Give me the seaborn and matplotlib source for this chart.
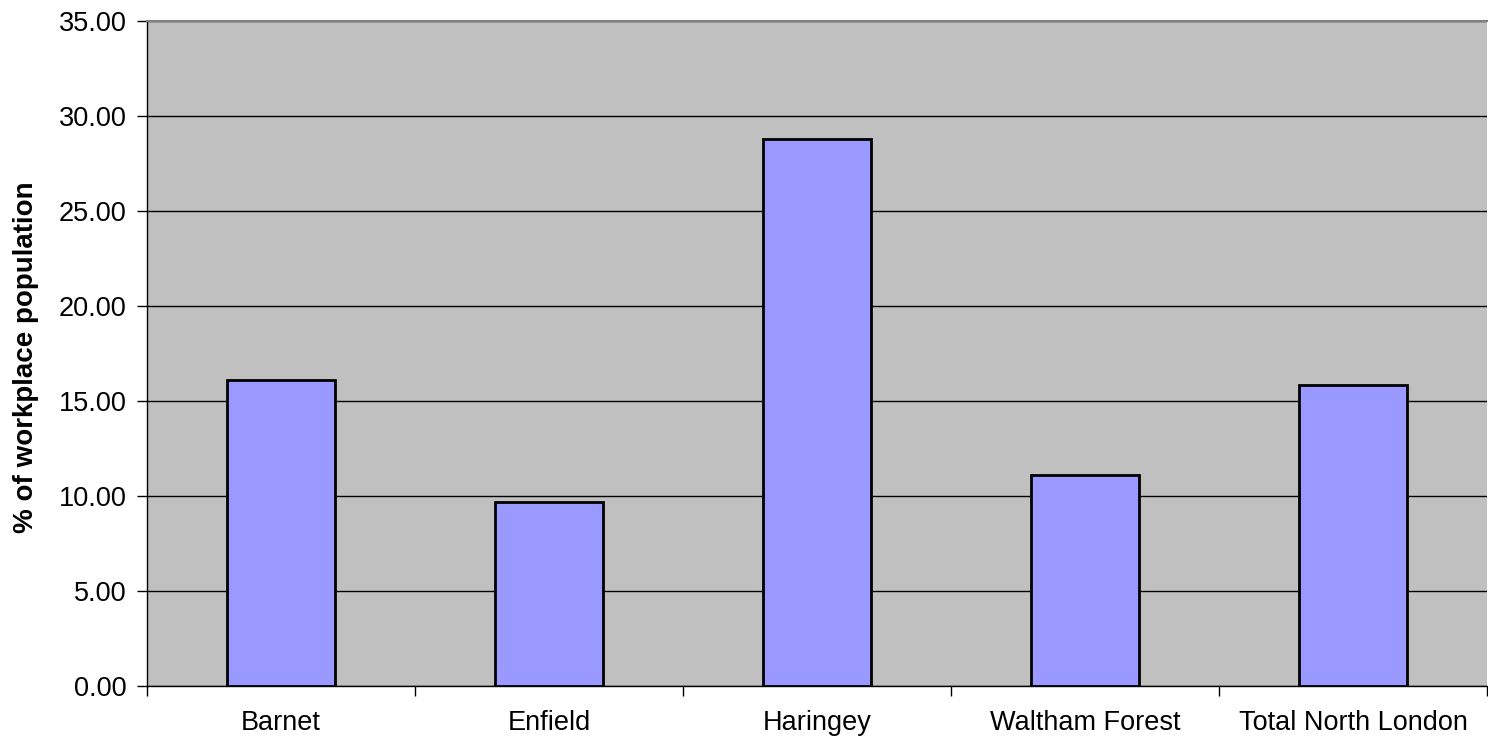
import pandas as pd
import matplotlib
matplotlib.use("Agg")
import matplotlib.pyplot as plt
import seaborn as sns
from matplotlib.ticker import MultipleLocator, FormatStrFormatter

# Datos
areas = ["Barnet", "Enfield", "Haringey", "Waltham Forest", "Total North London"]
porcentaje = [16.1, 9.7, 28.8, 11.1, 15.85]

datos = pd.DataFrame({"area": areas, "pct": porcentaje})

sns.set_style("white")
plt.rcParams["font.family"] = ["Liberation Sans", "DejaVu Sans"]
plt.rcParams["text.color"] = "black"
plt.rcParams["xtick.color"] = "black"
plt.rcParams["ytick.color"] = "black"
plt.rcParams["axes.labelcolor"] = "black"

fig = plt.figure(figsize=(14.88, 7.39), dpi=100)
ax = fig.add_axes([147 / 1488, 53 / 739, 1 - 147 / 1488 - 1 / 1488, 665 / 739])
ax.set_facecolor("#C0C0C0")

sns.barplot(data=datos, x="area", y="pct", color="#9999FF", saturation=1,
            width=0.4, edgecolor="black", linewidth=2, ax=ax, zorder=3)

ax.set_ylim(0, 35)
ax.set_xlim(-0.5, len(areas) - 0.5)
ax.yaxis.set_major_locator(MultipleLocator(5))
ax.yaxis.set_major_formatter(FormatStrFormatter("%.2f"))
ax.grid(axis="y", color="black", linewidth=1, zorder=1)
ax.set_axisbelow(True)

# ticks del eje x entre categorias
ax.set_xticks([i - 0.5 for i in range(len(areas) + 1)], minor=False)
ax.set_xticklabels([])
ax.set_xticks(range(len(areas)), minor=True)
ax.set_xticklabels(areas, minor=True)
ax.tick_params(axis="x", which="minor", length=0, pad=17, labelsize=19.5)
ax.tick_params(axis="x", which="major", direction="out", length=7, width=1, color="black")
ax.tick_params(axis="y", direction="out", length=7, width=1, color="black", labelsize=19.5, pad=7.5)
ax.tick_params(left=True, bottom=True)

for lado in ["left", "bottom"]:
    ax.spines[lado].set_color("black")
    ax.spines[lado].set_linewidth(1)
ax.spines["top"].set_color("#808080")
ax.spines["top"].set_linewidth(1.5)
ax.spines["right"].set_visible(False)

ax.set_xlabel("")
ax.set_ylabel("% of workplace population", fontsize=20, fontweight="bold")
ax.yaxis.set_label_coords(-121 / 1341, 0.495)
ax.yaxis.label.set_va("center")

fig.savefig("out.png", dpi=100)
